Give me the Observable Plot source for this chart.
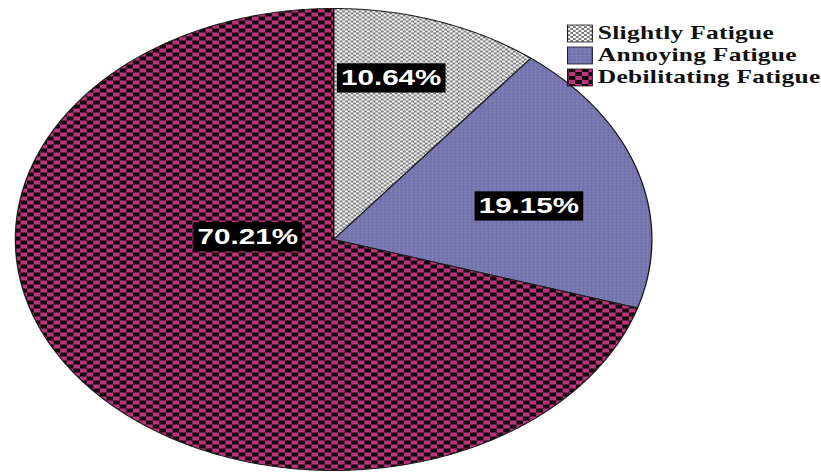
<!DOCTYPE html>
<html>
<head>
<meta charset="utf-8">
<script src="https://cdn.jsdelivr.net/npm/d3@7"></script>
<script src="https://cdn.jsdelivr.net/npm/@observablehq/plot@0.6"></script>
<style>
  html, body { margin: 0; padding: 0; background: #fff; }
  #chart svg { display: block; }
</style>
</head>
<body>
<div id="chart"></div>
<script>
// Fatigue severity shares
const categories = ["Slightly Fatigue", "Annoying Fatigue", "Debilitating Fatigue"];
const percents = [10.64, 19.15, 70.21];
const valueLabels = ["10.64%", "19.15%", "70.21%"];

// Label placement: fraction of the way through each slice, and distance from the centre (0..1)
const labelAlong = [0.38, 0.56, 0.652];
const labelRadius = [0.72, 0.63, 0.27];
const patternIds = ["pat-slight", "pat-annoy", "pat-debil"];

// The chart is laid out as a circle at this size, then stretched horizontally
const W = 596, H = 472, OUT_W = 821;

const slices = d3.pie().sort(null).value(d => d.value)(
  categories.map((name, i) => ({name, value: percents[i]}))
);

// Closed polygon for one slice in unit coordinates (y up, 0 rad at 12 o'clock, clockwise)
function slicePoints(s) {
  const pts = [{x: 0, y: 0}];
  const n = Math.max(2, Math.ceil((s.endAngle - s.startAngle) / (Math.PI / 360)));
  for (let k = 0; k <= n; k++) {
    const a = s.startAngle + (s.endAngle - s.startAngle) * k / n;
    pts.push({x: Math.sin(a), y: Math.cos(a)});
  }
  pts.push({x: 0, y: 0});
  return pts;
}

const labelData = slices.map((s, i) => {
  const a = s.startAngle + (s.endAngle - s.startAngle) * labelAlong[i];
  return {x: labelRadius[i] * Math.sin(a), y: labelRadius[i] * Math.cos(a), text: valueLabels[i]};
});

const svg = Plot.plot({
  width: W,
  height: H,
  marginLeft: 10.7,
  marginRight: 123.3,
  marginTop: 8,
  marginBottom: 2,
  x: {domain: [-1, 1], axis: null},
  y: {domain: [-1, 1], axis: null},
  marks: [
    ...slices.map((s, i) => Plot.line(slicePoints(s), {
      x: "x", y: "y",
      fill: `url(#${patternIds[i]})`,
      stroke: "#1c1c1c",
      strokeWidth: 1,
      strokeLinejoin: "round"
    })),
    Plot.text(labelData, {
      x: "x", y: "y", text: "text",
      fill: "white",
      fontSize: 21.5,
      fontWeight: "bold",
      fontFamily: "'Liberation Sans', Arial, sans-serif",
      textAnchor: "middle",
      lineAnchor: "middle"
    })
  ]
});

// Fill patterns
const defs = d3.select(svg).insert("defs", ":first-child");

const pSlight = defs.append("pattern").attr("id", "pat-slight")
  .attr("patternUnits", "userSpaceOnUse").attr("width", 4).attr("height", 4);
pSlight.append("rect").attr("width", 4).attr("height", 4).attr("fill", "#727272");
pSlight.append("circle").attr("cx", 1).attr("cy", 1).attr("r", 1.2).attr("fill", "#fff");
pSlight.append("circle").attr("cx", 3).attr("cy", 3).attr("r", 1.2).attr("fill", "#fff");

const pAnnoy = defs.append("pattern").attr("id", "pat-annoy")
  .attr("patternUnits", "userSpaceOnUse").attr("width", 3).attr("height", 3);
pAnnoy.append("rect").attr("width", 3).attr("height", 3).attr("fill", "#7272ac");
pAnnoy.append("circle").attr("cx", 1.5).attr("cy", 1.5).attr("r", 0.7).attr("fill", "#8e8ec6");

const pDebil = defs.append("pattern").attr("id", "pat-debil")
  .attr("patternUnits", "userSpaceOnUse").attr("width", 9.6).attr("height", 8);
pDebil.append("rect").attr("width", 9.6).attr("height", 8).attr("fill", "#16070f");
pDebil.append("rect").attr("x", 0).attr("y", 0).attr("width", 4.8).attr("height", 4).attr("fill", "#b8357a");
pDebil.append("rect").attr("x", 4.8).attr("y", 4).attr("width", 4.8).attr("height", 4).attr("fill", "#b8357a");

// Legend, top right
const legendX = 412, legendRows = [33.5, 55.5, 77.5], swW = 18, swH = 17;
const legend = d3.select(svg).append("g")
  .attr("font-family", "'Liberation Serif', 'Times New Roman', serif")
  .attr("font-weight", "bold")
  .attr("font-size", 18.5)
  .attr("letter-spacing", 0.2)
  .attr("text-anchor", "start");
categories.forEach((name, i) => {
  const cy = legendRows[i];
  legend.append("rect")
    .attr("x", legendX).attr("y", cy - swH / 2)
    .attr("width", swW).attr("height", swH)
    .attr("fill", `url(#${patternIds[i]})`)
    .attr("stroke", "#1c1c1c").attr("stroke-width", 0.8);
  legend.append("text")
    .attr("x", legendX + swW + 4).attr("y", cy + 6)
    .attr("text-anchor", "start")
    .attr("fill", "#111")
    .text(name);
});

// Stretch horizontally
svg.setAttribute("width", OUT_W);
svg.setAttribute("height", H);
svg.setAttribute("viewBox", `0 0 ${W} ${H}`);
svg.setAttribute("preserveAspectRatio", "none");
svg.style.width = OUT_W + "px";
svg.style.height = H + "px";
svg.style.maxWidth = "none";

document.getElementById("chart").appendChild(svg);

// Black boxes behind the percentage labels
svg.querySelectorAll('g[aria-label="text"] text').forEach(t => {
  const b = t.getBBox();
  const r = document.createElementNS("http://www.w3.org/2000/svg", "rect");
  r.setAttribute("x", b.x - 3);
  r.setAttribute("y", b.y - 3);
  r.setAttribute("width", b.width + 6);
  r.setAttribute("height", b.height + 6);
  r.setAttribute("fill", "#000");
  const tr = t.getAttribute("transform");
  if (tr) r.setAttribute("transform", tr);
  t.parentNode.insertBefore(r, t);
});
</script>
</body>
</html>
